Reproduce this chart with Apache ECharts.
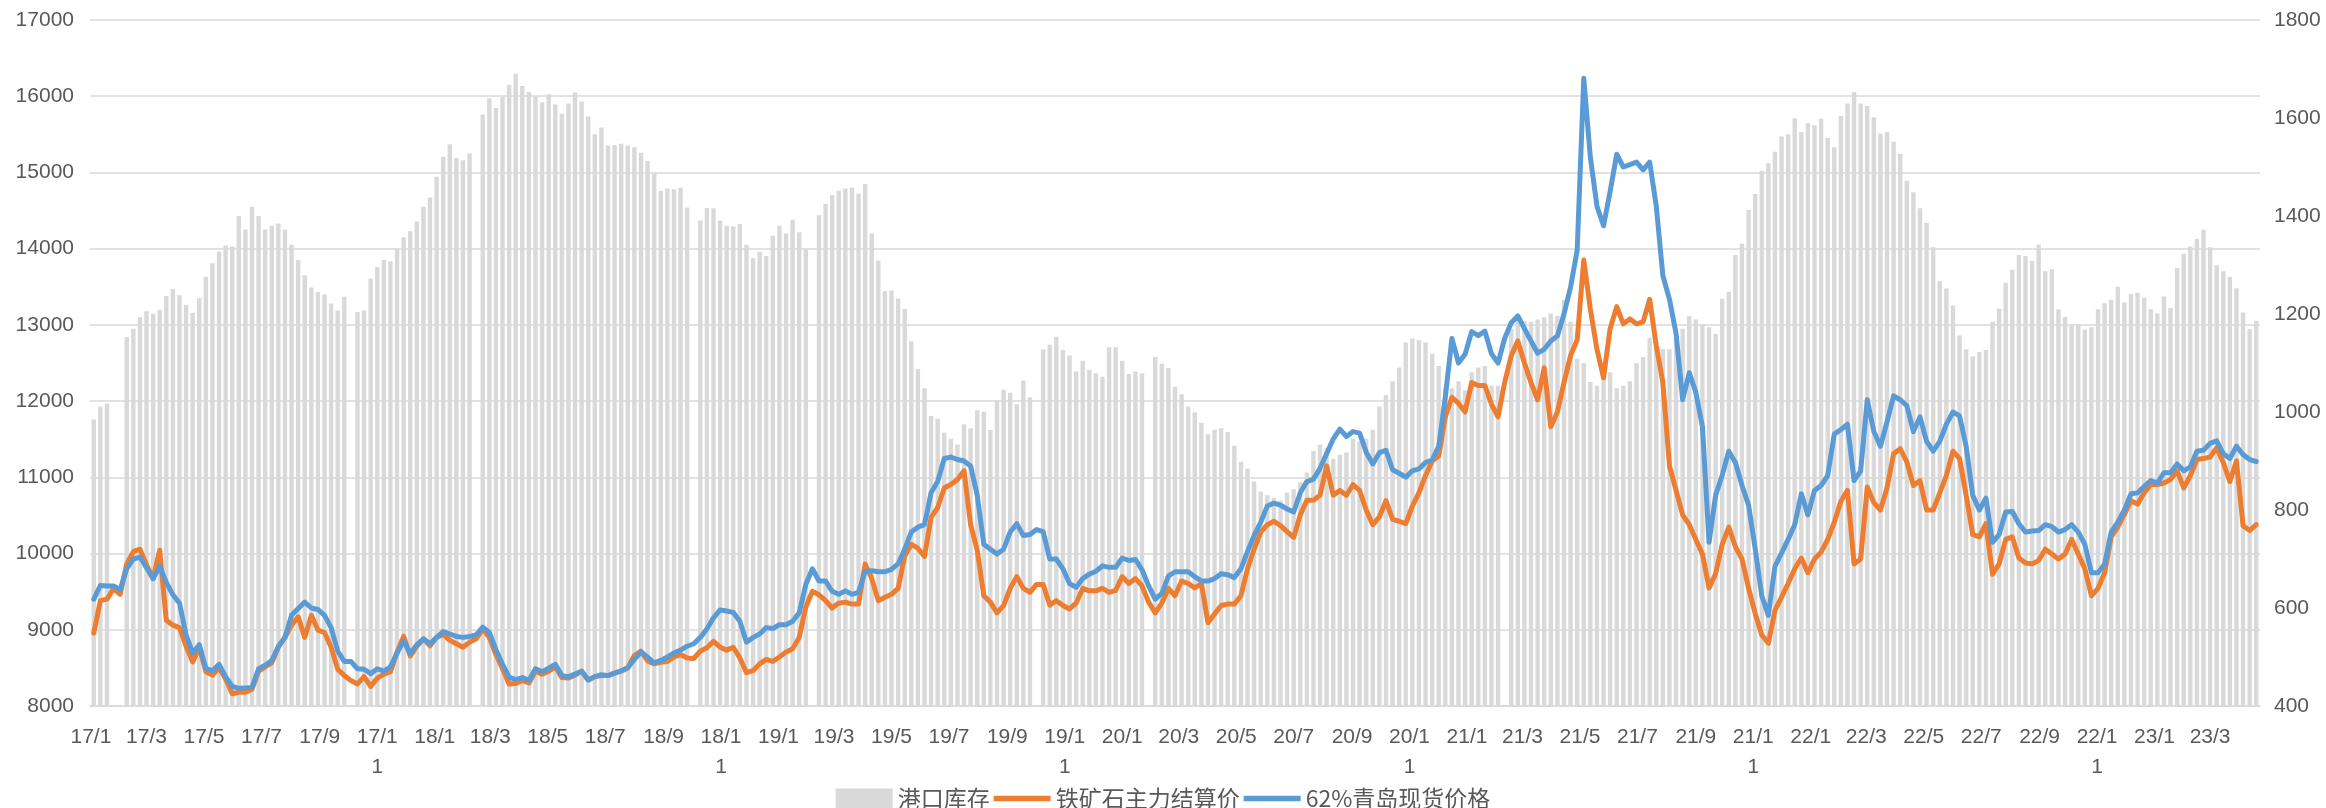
<!DOCTYPE html>
<html><head><meta charset="utf-8">
<script src="https://cdn.jsdelivr.net/npm/echarts@6/dist/echarts.min.js"></script>
<style>html,body{margin:0;padding:0;background:#fff}#c{width:2326px;height:808px}</style>
</head><body><div id="c"></div>
<script>
// weekly observations, first one on 2017-01-04, one every 7 days
const firstWeek = [2017, 0, 4];

// 港口库存 (left axis), null = no report that week
const inventory = [
11760,11930,11970,null,null,12840,12950,13100,13180,13145,
13200,13380,13470,13390,13260,13160,13350,13630,13810,13960,
14040,14030,14430,14250,14550,14430,14250,14300,14330,14250,
14050,13850,13650,13490,13430,13400,13280,13190,13370,null,
13170,13190,13610,13760,13850,13830,14000,14150,14230,14355,
14550,14670,14945,15205,15370,15190,15160,15250,null,15760,
15975,15845,15990,16150,16295,16135,16055,15995,15920,16025,
15890,15770,15905,16050,15930,15735,15500,15590,15355,15360,
15375,15355,15330,15260,15150,14980,14760,14790,14780,14800,
14540,null,14370,14535,14530,14370,14300,14290,14325,14050,
13875,13960,13905,14170,14300,14200,14380,14215,13990,null,
14440,14590,14705,14760,14790,14800,14720,14850,14200,13845,
13445,13450,13345,13210,12785,12420,12170,11805,11770,11585,
11505,11430,11695,11645,11880,11860,11620,12005,12150,12110,
11960,12270,12050,null,12680,12740,12845,12670,12600,12390,
12530,12410,12365,12320,12705,12705,12530,12355,12390,12365,
null,12580,12490,12435,12190,12090,11930,11855,11715,11565,
11625,11645,11595,11415,11205,11115,10945,10815,10765,10725,
10695,10800,10845,10935,11065,11345,11430,11385,11245,11295,
11325,11505,11475,11505,11625,11930,12080,12260,12440,12770,
12820,12800,12770,12620,12460,12180,12170,12260,12140,12380,
12440,12460,12200,12200,null,12950,13100,13050,13040,13070,
13100,13150,13115,13330,13040,12560,12500,12250,12200,12300,
12380,12170,12200,12260,12500,12580,12830,12700,12680,12680,
12800,12950,13115,13070,13010,12970,12880,13343,13434,13916,
14066,14506,14717,15018,15120,15271,15470,15500,15711,15530,
15645,15620,15705,15452,15331,15741,15904,16054,15904,15873,
15723,15512,15530,15404,15241,14892,14741,14530,14337,14018,
13572,13476,13253,12861,12681,12590,12645,12669,13042,13211,
13554,13723,13916,13904,13837,14054,13705,13729,13205,13102,
13000,13012,12940,12970,13205,13283,13331,13500,13295,13404,
13422,13355,13205,13151,13373,13223,13747,13934,14024,14127,
14247,14018,13783,13705,13627,13482,13163,12946,13054
];

// 铁矿石主力结算价 (right axis)
const futuresPrice = [
549,615,618,640,628,690,715,720,688,660,
718,575,565,560,522,490,520,470,463,478,
455,425,428,428,434,471,480,488,520,540,
565,582,540,585,555,550,520,475,462,452,
445,460,440,457,465,470,510,542,502,522,
537,523,540,546,534,527,520,530,537,557,
540,505,476,445,446,452,447,471,465,471,
480,458,457,463,471,453,460,462,462,467,
471,478,503,512,492,486,489,491,500,505,
498,497,512,519,532,520,514,520,498,468,
472,486,495,491,500,510,517,540,602,634,
627,615,600,610,612,608,608,690,660,615,
622,628,640,706,730,722,705,785,805,845,
852,862,880,770,718,625,612,590,605,640,
664,640,632,648,648,606,615,605,598,610,
640,635,635,640,632,636,664,650,660,645,
612,590,610,640,625,655,650,641,650,570,
588,605,608,608,625,680,720,755,770,777,
768,756,744,790,820,820,830,890,830,840,
830,852,840,800,770,786,819,781,777,772,
808,835,870,900,910,990,1030,1018,1000,1060,
1054,1054,1016,990,1060,1115,1145,1100,1060,1025,
1090,970,1000,1060,1115,1147,1310,1210,1128,1070,
1170,1215,1180,1190,1180,1184,1230,1135,1060,890,
840,790,770,740,710,641,670,730,765,725,
700,640,589,545,528,595,622,650,680,702,
672,700,714,740,775,818,840,690,700,847,
815,800,845,915,925,898,850,860,800,800,
835,870,920,905,830,750,745,772,669,690,
740,745,702,692,690,697,720,710,700,710,
740,710,680,625,640,672,745,765,791,819,
812,835,852,852,855,862,880,845,870,903,
905,908,927,897,858,900,768,758,770
];

// 62%青岛现货价格 (right axis)
const spotPrice = [
618,646,645,645,637,680,700,704,682,660,
685,652,627,610,545,508,525,477,472,485,
460,440,436,437,438,476,483,493,522,540,
585,599,612,600,597,585,560,512,491,491,
476,475,466,476,471,480,508,533,507,525,
537,527,540,552,547,542,540,542,545,561,
550,515,485,459,454,458,452,476,470,477,
485,462,460,465,471,453,460,464,462,467,
472,478,495,510,500,488,493,500,508,514,
522,527,540,557,580,596,594,591,573,530,
540,547,560,558,566,566,573,590,648,680,
655,655,634,628,635,628,632,675,676,674,
674,679,690,720,755,765,770,835,858,905,
908,903,900,890,830,730,720,710,720,755,
772,748,750,760,756,700,700,680,650,642,
660,669,675,686,683,683,702,697,699,678,
645,618,630,665,674,674,674,664,655,655,
660,670,668,662,680,715,748,775,808,814,
810,802,796,835,858,863,885,915,945,965,
950,960,957,918,894,917,922,882,875,867,
880,884,897,902,930,1030,1150,1100,1118,1164,
1156,1165,1119,1100,1150,1182,1196,1170,1145,1120,
1128,1145,1155,1200,1255,1330,1681,1520,1420,1380,
1450,1526,1500,1505,1510,1494,1510,1420,1278,1230,
1160,1025,1080,1040,970,734,830,871,920,897,
850,810,721,625,585,685,712,740,770,833,
790,840,850,870,955,964,975,860,880,1025,
960,930,980,1033,1025,1013,960,990,940,920,
940,975,1000,992,930,830,800,824,734,750,
796,797,772,755,757,758,770,766,755,760,
770,755,730,672,672,690,755,775,800,833,
835,848,860,855,876,876,894,880,888,920,
922,936,941,915,905,930,913,903,899
];

// x-axis tick labels (yy/m, every two months)
const tickLabels = [
'17/1','17/3','17/5','17/7','17/9','17/11',
'18/1','18/3','18/5','18/7','18/9','18/11',
'19/1','19/3','19/5','19/7','19/9','19/11',
'20/1','20/3','20/5','20/7','20/9','20/11',
'21/1','21/3','21/5','21/7','21/9','21/11',
'22/1','22/3','22/5','22/7','22/9','22/11',
'23/1','23/3'
];

const seriesNames = ['港口库存', '铁矿石主力结算价', '62%青岛现货价格'];

// x is measured in days since 2016-12-31
const DAY = 86400000;
const base = Date.UTC(2016, 11, 31);
const dayOf = (y, m, d) => Math.round((Date.UTC(y, m, d) - base) / DAY);
const weekDay = i => dayOf(firstWeek[0], firstWeek[1], firstWeek[2]) + 7 * i;
const tickDays = tickLabels.map(s => {
  const p = s.split('/');
  return dayOf(2000 + (+p[0]), (+p[1]) - 1, 1);
});
const pair = arr => arr.map((v, i) => [weekDay(i), v]);

const numFont = '"Liberation Sans", Arial, sans-serif';
const cjkFont = '"Noto Sans CJK SC", "Liberation Sans", sans-serif';
const txt = '#595959';
const lineIcon = 'path://M0,0L57,0L57,5.5L0,5.5Z';

const chart = echarts.init(document.getElementById('c'), null, {renderer: 'canvas'});
chart.setOption({
  animation: false,
  backgroundColor: '#ffffff',
  grid: {left: 90, right: 66, top: 20, bottom: 102, containLabel: false},
  legend: {
    top: 782, left: 'center',
    itemWidth: 57, itemHeight: 20, itemGap: 4,
    symbolKeepAspect: true,
    textStyle: {color: txt, fontSize: 23, fontFamily: cjkFont},
    data: [
      {name: seriesNames[0], icon: 'rect'},
      {name: seriesNames[1], icon: lineIcon},
      {name: seriesNames[2], icon: lineIcon}
    ]
  },
  xAxis: {
    type: 'value',
    min: 0,
    max: dayOf(2023, 3, 23),
    axisLine: {show: true, onZero: false, lineStyle: {color: '#D9D9D9', width: 1.5}},
    axisTick: {show: false},
    splitLine: {show: false},
    axisLabel: {
      customValues: tickDays,
      color: txt, fontSize: 21, lineHeight: 30, margin: 16, fontFamily: numFont,
      formatter: function (v) {
        const i = tickDays.indexOf(Math.round(v));
        if (i < 0) return '';
        const s = tickLabels[i];
        return s.length > 4 ? s.slice(0, 4) + '\n' + s.slice(4) : s;
      }
    }
  },
  yAxis: [
    {
      type: 'value', min: 8000, max: 17000, interval: 1000,
      axisLine: {show: false}, axisTick: {show: false},
      axisLabel: {color: txt, fontSize: 21, margin: 16, fontFamily: numFont,
        formatter: v => String(v)},
      splitLine: {show: true, lineStyle: {color: '#D9D9D9', width: 1.5}}
    },
    {
      type: 'value', min: 400, max: 1800, interval: 200,
      axisLine: {show: false}, axisTick: {show: false},
      axisLabel: {color: txt, fontSize: 21, margin: 14, fontFamily: numFont,
        formatter: v => String(v)},
      splitLine: {show: false}
    }
  ],
  series: [
    {
      name: seriesNames[0], type: 'bar', yAxisIndex: 0, barWidth: 4.4,
      itemStyle: {color: '#D9D9D9'},
      data: pair(inventory)
    },
    {
      name: seriesNames[1], type: 'line', yAxisIndex: 1,
      symbol: 'none', showSymbol: false,
      itemStyle: {color: '#ED7D31'},
      lineStyle: {color: '#ED7D31', width: 5, join: 'round', cap: 'round'},
      data: pair(futuresPrice)
    },
    {
      name: seriesNames[2], type: 'line', yAxisIndex: 1,
      symbol: 'none', showSymbol: false,
      itemStyle: {color: '#5B9BD5'},
      lineStyle: {color: '#5B9BD5', width: 5, join: 'round', cap: 'round'},
      data: pair(spotPrice)
    }
  ]
});
</script>
</body></html>
